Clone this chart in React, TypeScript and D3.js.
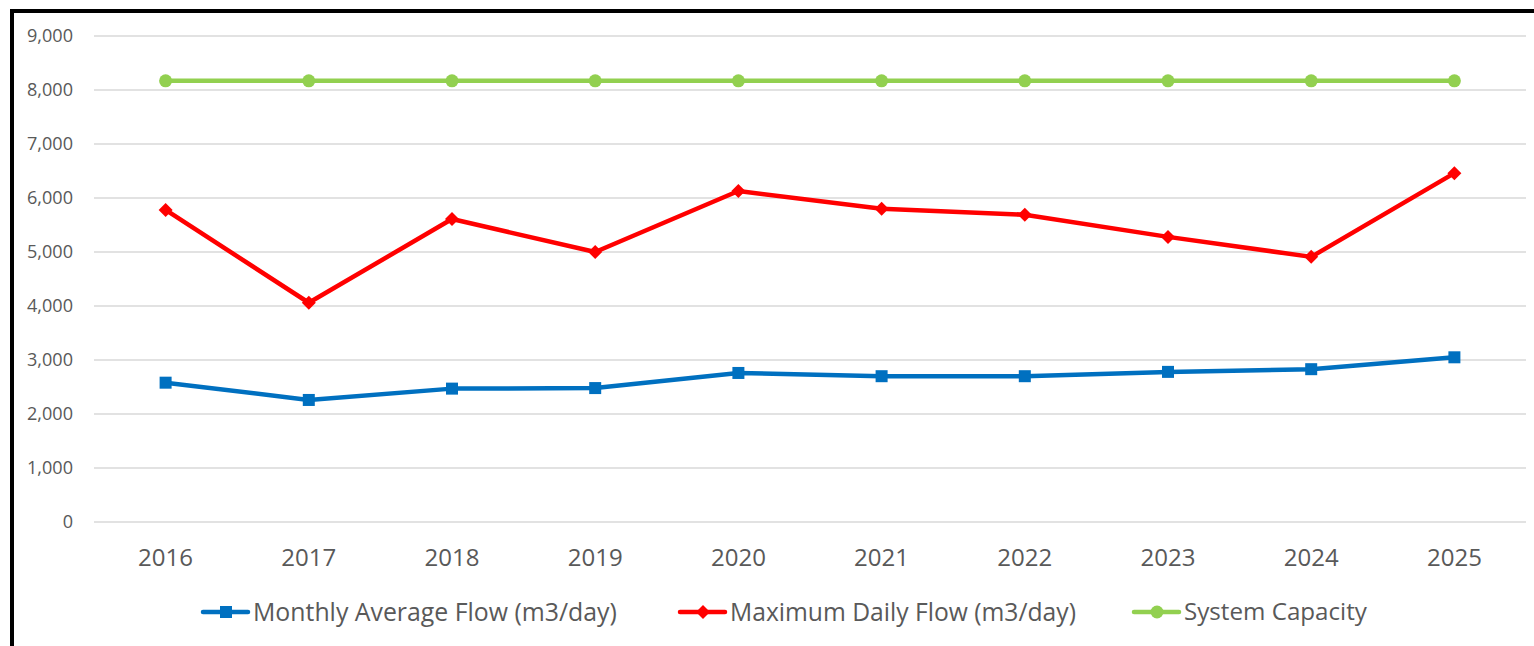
import React, { useEffect, useRef } from "react";
import * as d3 from "d3";

const years = ["2016", "2017", "2018", "2019", "2020", "2021", "2022", "2023", "2024", "2025"];
const monthlyAvg = [2580, 2260, 2470, 2480, 2760, 2700, 2700, 2780, 2830, 3050];
const maxDaily = [5780, 4060, 5610, 5000, 6130, 5800, 5690, 5280, 4910, 6460];
const capacity = [8170, 8170, 8170, 8170, 8170, 8170, 8170, 8170, 8170, 8170];
const yTicks = [0, 1000, 2000, 3000, 4000, 5000, 6000, 7000, 8000, 9000];

const seriesNames = ["Monthly Average Flow (m3/day)", "Maximum Daily Flow (m3/day)", "System Capacity"];
const seriesColors = ["#0070C0", "#FF0000", "#92D050"];

const W = 1534, H = 646;
const font = "'Open Sans', sans-serif";

// font size that makes a text element reach a target pixel width
function fitSize(sel: any, target: number) {
  const node = sel.node() as SVGTextElement;
  const size = parseFloat(sel.attr("font-size"));
  const w = node.getComputedTextLength();
  return w > 0 ? size * target / w : size;
}

export default function App() {
  const ref = useRef<SVGSVGElement>(null);

  useEffect(() => {
    const svg = d3.select(ref.current);
    svg.selectAll("*").remove();

    const left = 94, right = 1526, top = 36, bottom = 522;
    const x = d3.scaleBand().domain(years).range([left, right]);
    const y = d3.scaleLinear().domain([0, 9000]).range([bottom, top]);

    svg.append("rect").attr("width", W).attr("height", H).attr("fill", "#fff");
    // outer chart border (cropped on right/bottom)
    svg.append("rect").attr("x", 12).attr("y", 11).attr("width", W + 20).attr("height", H + 20)
      .attr("fill", "none").attr("stroke", "#000").attr("stroke-width", 4);

    svg.append("g").selectAll("line").data(yTicks).enter().append("line")
      .attr("x1", left).attr("x2", right)
      .attr("y1", d => y(d)).attr("y2", d => y(d))
      .attr("stroke", "#d9d9d9").attr("stroke-width", 1.3);

    const yLabels = svg.append("g").selectAll("text").data(yTicks).enter().append("text")
      .attr("x", 73).attr("y", d => y(d)).attr("dy", "0.35em")
      .attr("text-anchor", "end").attr("font-family", font).attr("font-size", 16)
      .attr("fill", "#595959").text(d => d3.format(",")(d));
    const ySize = fitSize(yLabels.filter(d => d === 9000), 46);
    yLabels.attr("font-size", ySize.toFixed(2));

    const xLabels = svg.append("g").selectAll("text").data(years).enter().append("text")
      .attr("x", d => x(d)! + x.bandwidth() / 2).attr("y", 558).attr("dy", "0.35em")
      .attr("text-anchor", "middle").attr("font-family", font).attr("font-size", 22)
      .attr("fill", "#595959").text(d => d);
    const xSize = fitSize(xLabels.filter(d => d === "2016"), 55);
    xLabels.attr("font-size", xSize.toFixed(2));

    const cx = (i: number) => x(years[i])! + x.bandwidth() / 2;
    const line = d3.line<number>().x((d, i) => cx(i)).y(d => y(d));

    const marker = (g: any, kind: number, px: number, py: number, color: string) => {
      if (kind === 0) {
        g.append("rect").attr("x", px - 6).attr("y", py - 6).attr("width", 12).attr("height", 12).attr("fill", color);
      } else if (kind === 1) {
        g.append("path").attr("d", "M0,-7L7,0L0,7L-7,0Z").attr("transform", `translate(${px},${py})`).attr("fill", color);
      } else {
        g.append("circle").attr("cx", px).attr("cy", py).attr("r", 6.5).attr("fill", color);
      }
    };

    const allSeries = [monthlyAvg, maxDaily, capacity];
    allSeries.forEach((s, k) => {
      const g = svg.append("g");
      g.append("path").attr("d", line(s)).attr("fill", "none")
        .attr("stroke", seriesColors[k]).attr("stroke-width", 4.5).attr("stroke-linejoin", "round").attr("stroke-linecap", "round");
      s.forEach((v, i) => marker(g, k, cx(i), y(v), seriesColors[k]));
    });

    // legend
    const legX = [203, 680, 1134];
    const legW = [364, 346, 183];
    const legY = 612;
    seriesNames.forEach((name, k) => {
      const g = svg.append("g");
      g.append("line").attr("x1", legX[k]).attr("x2", legX[k] + 45).attr("y1", legY).attr("y2", legY)
        .attr("stroke", seriesColors[k]).attr("stroke-width", 4.5).attr("stroke-linecap", "round");
      marker(g, k, legX[k] + 23, legY, seriesColors[k]);
      const t = g.append("text").attr("x", legX[k] + 50).attr("y", legY).attr("dy", "0.35em")
        .attr("font-family", font).attr("font-size", 22).attr("fill", "#595959").text(name);
      t.attr("font-size", fitSize(t, legW[k]).toFixed(2));
    });
  }, []);

  return (
    <div style={{ position: "absolute", left: 0, top: 0 }}>
      <svg ref={ref} width={W} height={H} style={{ display: "block" }} />
    </div>
  );
}
